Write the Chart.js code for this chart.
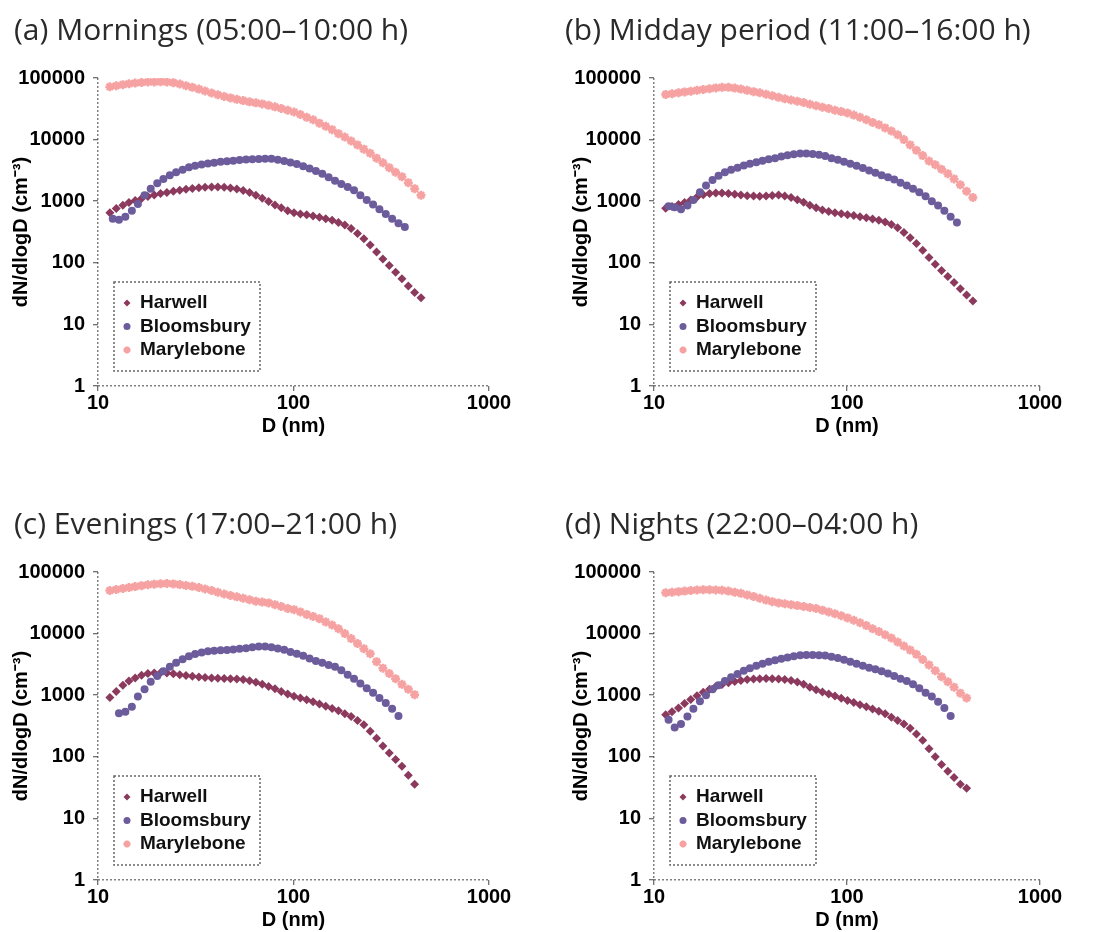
<!DOCTYPE html>
<html>
<head>
<meta charset="utf-8">
<title>Particle number size distributions at three London sites</title>
<script src="https://cdn.jsdelivr.net/npm/chart.js@4.4.1/dist/chart.umd.min.js"></script>
<style>
  html, body { margin: 0; padding: 0; background: #fff; overflow: hidden; }
  body { width: 1093px; height: 932px; position: relative; }
  canvas { position: absolute; }
</style>
</head>
<body>
<canvas id="panelA" width="545" height="440" style="left:0;top:0"></canvas>
<canvas id="panelB" width="545" height="440" style="left:548px;top:0"></canvas>
<canvas id="panelC" width="545" height="440" style="left:0;top:494px"></canvas>
<canvas id="panelD" width="545" height="440" style="left:548px;top:494px"></canvas>
<script>
// Particle diameters (nm) of the size channels
const DIAM = [11.5, 12.4, 13.4, 14.4, 15.5, 16.7, 18.0, 19.4, 20.9, 22.5,
  24.3, 26.2, 28.2, 30.4, 32.8, 35.3, 38.1, 41.0, 44.2, 47.6,
  51.3, 55.3, 59.6, 64.2, 69.2, 74.6, 80.4, 86.6, 93.4, 100.6,
  108.4, 116.8, 125.9, 135.7, 146.2, 157.6, 169.8, 183.0, 197.2, 212.5,
  229.0, 246.8, 266.0, 286.6, 308.9, 332.9, 358.7, 386.6, 416.6, 449.0];
const DIAM_BLOOMSBURY = [11.9, 12.8, 13.8, 14.9, 16.0, 17.3, 18.6, 20.1, 21.6, 23.3,
  25.1, 27.1, 29.2, 31.4, 33.9, 36.5, 39.3, 42.4, 45.7, 49.2,
  53.0, 57.2, 61.6, 66.4, 71.6, 77.1, 83.1, 89.6, 96.5, 104.0,
  112.1, 120.8, 130.2, 140.3, 151.2, 163.0, 175.6, 189.3, 204.0, 219.8,
  236.9, 255.3, 275.1, 296.5, 319.5, 344.3, 371.1];

// dN/dlogD (cm-3)
const HARWELL_A = [650, 760, 860, 950, 1030, 1110, 1190, 1260, 1330, 1390,
  1450, 1510, 1560, 1610, 1650, 1680, 1700, 1700, 1680, 1640,
  1580, 1490, 1380, 1250, 1120, 990, 870, 780, 700, 650,
  620, 600, 575, 550, 520, 490, 450, 410, 360, 300,
  245, 195, 150, 115, 90, 70, 55, 42, 33, 27];
const BLOOMSBURY_A = [520, 500, 560, 700, 900, 1250, 1600, 1950, 2300, 2650,
  2950, 3250, 3550, 3750, 3950, 4100, 4200, 4350, 4450, 4550,
  4650, 4750, 4800, 4850, 4900, 4900, 4700, 4500, 4250, 4000,
  3700, 3400, 3100, 2800, 2450, 2150, 1900, 1700, 1500, 1250,
  1050, 880, 740, 620, 520, 440, 380];
const MARYLEBONE_A = [72000, 75000, 78000, 80500, 83000, 84500, 86000, 86500, 87000, 86000,
  84000, 80000, 75000, 70500, 66000, 61500, 57000, 53500, 50000, 47500,
  45000, 43000, 41000, 39500, 38000, 36000, 34000, 32000, 30000, 28000,
  25500, 23000, 21000, 18500, 16500, 14500, 12500, 11000, 9500, 8200,
  7000, 6000, 5000, 4200, 3500, 2950, 2500, 2000, 1600, 1250];

const HARWELL_B = [770, 820, 880, 950, 1050, 1170, 1270, 1330, 1360, 1360,
  1330, 1300, 1260, 1230, 1210, 1200, 1210, 1240, 1260, 1220,
  1150, 1060, 960, 860, 780, 720, 680, 650, 625, 605,
  585, 560, 540, 515, 490, 460, 420, 370, 310, 255,
  205, 160, 122, 95, 75, 60, 48, 38, 30, 24];
const BLOOMSBURY_B = [830, 800, 740, 850, 1050, 1400, 1800, 2200, 2600, 2950,
  3250, 3500, 3800, 4050, 4300, 4550, 4800, 5000, 5300, 5550,
  5800, 5950, 5950, 5850, 5700, 5400, 5000, 4700, 4350, 4050,
  3750, 3450, 3150, 2900, 2650, 2450, 2250, 2000, 1800, 1600,
  1400, 1200, 1000, 850, 700, 560, 450];
const MARYLEBONE_B = [54000, 55500, 57500, 59500, 61000, 63000, 65000, 67000, 69000, 70500,
  70500, 68500, 66000, 63000, 60000, 57500, 54500, 51500, 48500, 46000,
  44000, 42000, 40000, 37500, 35500, 33500, 32000, 30000, 28500, 27000,
  25000, 23000, 21000, 19000, 17500, 15500, 13800, 12000, 10000, 8200,
  6700, 5500, 4500, 3900, 3300, 2800, 2300, 1850, 1450, 1150];

const HARWELL_C = [920, 1150, 1450, 1700, 1900, 2100, 2250, 2300, 2320, 2300,
  2220, 2150, 2080, 2030, 1980, 1940, 1900, 1880, 1860, 1850,
  1840, 1800, 1720, 1620, 1500, 1380, 1270, 1150, 1050, 960,
  900, 840, 780, 720, 660, 610, 560, 500, 450, 390,
  330, 260, 200, 150, 115, 90, 70, 50, 36];
const BLOOMSBURY_C = [null, 510, 540, 650, 950, 1250, 1650, 2050, 2450, 2900,
  3350, 3850, 4300, 4650, 4950, 5150, 5250, 5350, 5400, 5500,
  5650, 5800, 6000, 6200, 6200, 6000, 5750, 5450, 5050, 4700,
  4350, 3950, 3600, 3350, 3100, 2900, 2550, 2150, 1850, 1550,
  1300, 1100, 900, 750, 600, 460];
const MARYLEBONE_C = [50000, 52000, 54000, 56000, 58000, 60000, 62000, 63500, 64500, 65000,
  64000, 62500, 60500, 58500, 56000, 53000, 50000, 47000, 44000, 41500,
  39500, 37500, 35500, 33500, 32500, 31500, 29500, 27500, 25500, 24500,
  22500, 20500, 19000, 17500, 15500, 13800, 12000, 10000, 8300, 6900,
  5700, 4700, 3500, 2750, 2250, 1850, 1500, 1250, 1020];

const HARWELL_D = [480, 540, 620, 730, 850, 980, 1120, 1250, 1380, 1490,
  1590, 1670, 1740, 1790, 1830, 1850, 1860, 1850, 1830, 1790,
  1730, 1640, 1500, 1350, 1230, 1130, 1050, 970, 890, 820,
  760, 700, 650, 595, 550, 500, 440, 390, 340, 290,
  235, 185, 135, 100, 75, 58, 46, 36, 31];
const BLOOMSBURY_D = [400, 300, 340, 450, 600, 800, 1000, 1250, 1450, 1700,
  1950, 2200, 2500, 2750, 3000, 3250, 3500, 3700, 3900, 4100,
  4300, 4450, 4500, 4500, 4450, 4400, 4200, 4000, 3750, 3500,
  3250, 3000, 2800, 2650, 2450, 2250, 2050, 1850, 1700, 1500,
  1300, 1100, 950, 780, 620, 460];
const MARYLEBONE_D = [46000, 47000, 48000, 49000, 50000, 51000, 51500, 51500, 51000, 50500,
  49000, 47000, 45000, 42500, 40000, 37500, 35000, 33000, 31500, 30500,
  29500, 28500, 27500, 26500, 25500, 24000, 22500, 21000, 19500, 18000,
  16500, 15000, 13500, 12000, 10800, 9600, 8500, 7300, 6300, 5400,
  4600, 3800, 3100, 2500, 2000, 1650, 1350, 1080, 900];

const SITES = ['Harwell', 'Bloomsbury', 'Marylebone'];
const X_TICKS = [10, 100, 1000];
const Y_TICKS = [1, 10, 100, 1000, 10000, 100000];
const PANEL_TITLES = [
  '(a) Mornings (05:00–10:00 h)',
  '(b) Midday period (11:00–16:00 h)',
  '(c) Evenings (17:00–21:00 h)',
  '(d) Nights (22:00–04:00 h)'
];

// per-site look
const SITE_STYLE = [
  { color: '#8b3a5e', pointStyle: 'rectRot', radius: 4.5, border: 0, diam: DIAM },
  { color: '#6c5c9c', pointStyle: 'circle', radius: 4, border: 0, diam: DIAM_BLOOMSBURY },
  { color: '#f6a2a2', pointStyle: 'star', radius: 4.5, border: 2.5, diam: DIAM }
];

// canvas layout: left column vs right column
const PANELS = [
  { id: 'panelA', series: [HARWELL_A, BLOOMSBURY_A, MARYLEBONE_A], padLeft: 14, axisLeft: 98, axisRight: 489, yTitleX: 21 },
  { id: 'panelB', series: [HARWELL_B, BLOOMSBURY_B, MARYLEBONE_B], padLeft: 17, axisLeft: 106, axisRight: 492, yTitleX: 33 },
  { id: 'panelC', series: [HARWELL_C, BLOOMSBURY_C, MARYLEBONE_C], padLeft: 14, axisLeft: 98, axisRight: 489, yTitleX: 21 },
  { id: 'panelD', series: [HARWELL_D, BLOOMSBURY_D, MARYLEBONE_D], padLeft: 17, axisLeft: 106, axisRight: 492, yTitleX: 33 }
];

const CANVAS_W = 545, CANVAS_H = 440, AXIS_BOTTOM = 386, X_AXIS_H = 54;
const BOLD = { family: '"Liberation Sans", Arial, sans-serif', size: 20, weight: 'bold' };

// legend inside the plot, with a dotted frame
const boxLegend = {
  id: 'boxLegend',
  afterDatasetsDraw(chart) {
    const { ctx, chartArea } = chart;
    const x = chartArea.left + 16, y = chartArea.bottom - 104, w = 146, h = 89;
    ctx.save();
    ctx.fillStyle = '#fff';
    ctx.fillRect(x, y, w, h);
    ctx.setLineDash([2, 2]);
    ctx.strokeStyle = '#666';
    ctx.lineWidth = 1.5;
    ctx.strokeRect(x, y, w, h);
    ctx.setLineDash([]);
    chart.data.datasets.forEach((ds, i) => {
      const cy = y + 21 + i * 23.5;
      ctx.fillStyle = ds.backgroundColor;
      ctx.strokeStyle = ds.borderColor;
      ctx.lineWidth = ds.pointBorderWidth || 1;
      if (Chart.helpers && Chart.helpers.drawPoint) {
        Chart.helpers.drawPoint(ctx, { pointStyle: ds.pointStyle, radius: 3.5, borderWidth: ds.pointBorderWidth ? 2 : 0, rotation: 0 }, x + 13, cy);
      } else {
        ctx.beginPath(); ctx.arc(x + 13, cy, 3, 0, Math.PI * 2); ctx.fill();
      }
      ctx.fillStyle = '#111';
      ctx.font = 'bold 19px "Liberation Sans", Arial, sans-serif';
      ctx.textBaseline = 'middle';
      ctx.textAlign = 'left';
      ctx.fillText(ds.label, x + 26, cy);
    });
    ctx.restore();
  }
};

PANELS.forEach((p, k) => {
  const datasets = SITES.map((site, i) => {
    const st = SITE_STYLE[i];
    return {
      label: site,
      data: p.series[i].map((v, j) => ({ x: st.diam[j], y: v })).filter(pt => pt.y !== null),
      backgroundColor: st.color,
      borderColor: st.color,
      pointStyle: st.pointStyle,
      pointRadius: st.radius,
      pointBorderWidth: st.border,
      showLine: false,
      order: 3 - i
    };
  });

  new Chart(document.getElementById(p.id), {
    type: 'scatter',
    data: { datasets },
    plugins: [boxLegend],
    options: {
      responsive: false,
      animation: false,
      devicePixelRatio: 1,
      layout: {
        padding: { left: p.padLeft, right: CANVAS_W - p.axisRight, top: 0, bottom: CANVAS_H - AXIS_BOTTOM - X_AXIS_H }
      },
      plugins: {
        legend: { display: false },
        tooltip: { enabled: false },
        title: {
          display: true,
          text: PANEL_TITLES[k],
          align: 'start',
          color: '#2a2a2a',
          font: { family: '"Open Sans", "Noto Sans", sans-serif', size: 30, weight: 'normal', lineHeight: 1.2 },
          padding: { top: 13, bottom: 29 }
        }
      },
      scales: {
        x: {
          type: 'logarithmic',
          min: 10,
          max: 1000,
          afterBuildTicks: (axis) => { axis.ticks = X_TICKS.map(v => ({ value: v })); },
          afterFit: (s) => { s.height = X_AXIS_H; },
          ticks: { callback: (v) => String(v), font: BOLD, color: '#000', padding: 0, maxRotation: 0, autoSkip: false },
          grid: {
            drawOnChartArea: true,
            color: (c) => (c.tick && c.tick.value === 10 ? '#808080' : 'rgba(0,0,0,0)'),
            lineWidth: 1.5,
            drawTicks: true,
            tickLength: 5,
            tickColor: '#444',
            tickWidth: 1,
            tickBorderDash: []
          },
          border: { display: false, dash: [2, 2] },
          title: { display: true, text: 'D (nm)', font: { ...BOLD, lineHeight: 1.2 }, color: '#000', padding: { top: 0, bottom: 2 } }
        },
        y: {
          type: 'logarithmic',
          min: 1,
          max: 100000,
          afterBuildTicks: (axis) => { axis.ticks = Y_TICKS.map(v => ({ value: v })); },
          afterFit: (s) => { s.width = p.axisLeft - p.padLeft; },
          ticks: { callback: (v) => String(v), font: BOLD, color: '#000', padding: 8, autoSkip: false },
          grid: {
            drawOnChartArea: true,
            color: (c) => (c.tick && c.tick.value === 1 ? '#808080' : 'rgba(0,0,0,0)'),
            lineWidth: 1.5,
            drawTicks: true,
            tickLength: 5,
            tickColor: '#444',
            tickWidth: 1,
            tickBorderDash: []
          },
          border: { display: false, dash: [2, 2] },
          title: {
            display: true,
            text: 'dN/dlogD (cm⁻³)',
            font: { ...BOLD, lineHeight: 1 },
            color: '#000',
            padding: { top: p.yTitleX - p.padLeft - 10, bottom: 0 }
          }
        }
      }
    }
  });
});
</script>
</body>
</html>
